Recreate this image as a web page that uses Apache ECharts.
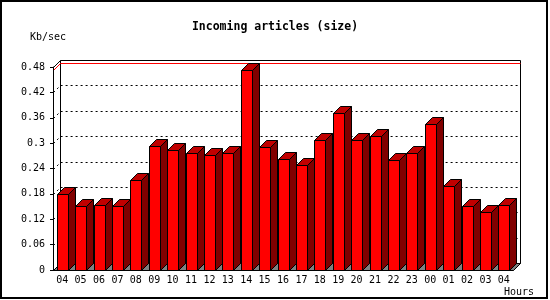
<!DOCTYPE html>
<html>
<head>
<meta charset="utf-8">
<script src="https://cdn.jsdelivr.net/npm/echarts@6/dist/echarts.min.js"></script>
<style>
  html, body { margin: 0; padding: 0; background: #fff; }
  #chart { width: 550px; height: 300px; }
</style>
</head>
<body>
<div id="chart"></div>
<script>
// hours on the x axis (24h window, starts and ends at 04)
const hours = ['04', '05', '06', '07', '08', '09', '10', '11', '12', '13', '14', '15',
  '16', '17', '18', '19', '20', '21', '22', '23', '00', '01', '02', '03', '04'];
// incoming articles, Kb/sec
const kbPerSec = [0.179, 0.151, 0.154, 0.151, 0.212, 0.293, 0.284, 0.276, 0.271, 0.276,
  0.473, 0.290, 0.263, 0.248, 0.307, 0.371, 0.307, 0.316, 0.259, 0.276,
  0.345, 0.198, 0.151, 0.136, 0.153];
// y ticks with a dashed line on the back wall
const gridTicks = [0.06, 0.12, 0.18, 0.24, 0.3, 0.36, 0.42];

const DEPTH = 7;
const MONO = '"DejaVu Sans Mono", "Liberation Mono", monospace';
const px = v => Math.round(v) + 0.5;

const chart = echarts.init(document.getElementById('chart'));

// back wall + floor of the 3d box
function renderBox(params, api) {
  const cs = params.coordSys;
  const x0 = px(cs.x), y0 = px(cs.y), x1 = px(cs.x + cs.width), y1 = px(cs.y + cs.height);
  return {
    type: 'group',
    children: [
      { type: 'rect', shape: { x: x0 + DEPTH, y: y0 - DEPTH, width: x1 - x0, height: y1 - y0 },
        style: { fill: '#fff', stroke: '#000', lineWidth: 1 } },
      { type: 'polygon', shape: { points: [[x0, y1], [x0 + DEPTH, y1 - DEPTH], [x1 + DEPTH, y1 - DEPTH], [x1, y1]] },
        style: { fill: '#808080', stroke: '#000', lineWidth: 1 } },
      // top edge diagonal
      { type: 'polyline', shape: { points: [[x0, y0], [x0 + DEPTH, y0 - DEPTH]] },
        style: { stroke: '#000', lineWidth: 1 } }
    ]
  };
}

// dashed grid lines drawn on the back wall
function renderGrid(params, api) {
  const cs = params.coordSys;
  const y = px(api.coord([0, api.value(0)])[1]);
  const x0 = px(cs.x), x1 = px(cs.x + cs.width);
  return {
    type: 'polyline',
    shape: { points: [[x0, y], [x0 + DEPTH, y - DEPTH], [x1 + DEPTH, y - DEPTH]] },
    style: { stroke: '#000', lineWidth: 1, lineDash: [2, 3], fill: null }
  };
}

// red line for the maximum
function renderMax(params, api) {
  const cs = params.coordSys;
  const y = px(api.coord([0, api.value(0)])[1]);
  const x0 = px(cs.x), x1 = px(cs.x + cs.width);
  return {
    type: 'polyline',
    shape: { points: [[x0, y], [x0 + DEPTH, y - DEPTH], [x1 + DEPTH, y - DEPTH]] },
    style: { stroke: '#ff0000', lineWidth: 1, fill: null }
  };
}

function renderBar(params, api) {
  const base = api.coord([api.value(0), 0]);
  const top = api.coord([api.value(0), api.value(1)]);
  const fw = Math.round(api.size([1, 0])[0] * 0.6);
  const x0 = px(base[0] - fw / 2), x1 = x0 + fw;
  const ty = px(top[1]), by = px(base[1]);
  const d = DEPTH;
  const line = { stroke: '#000', lineWidth: 1 };
  return {
    type: 'group',
    children: [
      { type: 'polygon', shape: { points: [[x1, ty], [x1 + d, ty - d], [x1 + d, by - d], [x1, by]] },
        style: Object.assign({ fill: '#800000' }, line) },
      { type: 'polygon', shape: { points: [[x0, ty], [x0 + d, ty - d], [x1 + d, ty - d], [x1, ty]] },
        style: Object.assign({ fill: '#c00000' }, line) },
      { type: 'rect', shape: { x: x0, y: ty, width: fw, height: by - ty },
        style: Object.assign({ fill: '#ff0000' }, line) }
    ]
  };
}

const option = {
  animation: false,
  backgroundColor: '#fff',
  grid: { left: 53, right: 37, top: 67, bottom: 30 },
  xAxis: {
    type: 'category',
    data: hours,
    z: 10,
    axisLine: { lineStyle: { color: '#000', width: 1 } },
    axisTick: { length: 4, lineStyle: { color: '#000' } },
    axisLabel: { color: '#000', fontFamily: MONO, fontSize: 10, margin: 5, interval: 0 }
  },
  yAxis: {
    type: 'value',
    min: 0,
    max: 0.48,
    interval: 0.06,
    z: 10,
    splitLine: { show: false },
    axisLine: { show: true, lineStyle: { color: '#000', width: 1 } },
    axisTick: { show: true, length: 3, lineStyle: { color: '#000' } },
    axisLabel: { color: '#000', fontFamily: MONO, fontSize: 10, margin: 8 }
  },
  graphic: [
    { type: 'text', left: 'center', top: 21,
      style: { text: 'Incoming articles (size)', font: 'bold 11.5px ' + MONO, fill: '#000' } },
    { type: 'text', x: 30, y: 32,
      style: { text: 'Kb/sec', font: '10px ' + MONO, fill: '#000' } },
    { type: 'text', x: 504, y: 287,
      style: { text: 'Hours', font: '10px ' + MONO, fill: '#000' } },
    { type: 'rect', shape: { x: 1, y: 1, width: 546, height: 297 },
      style: { fill: null, stroke: '#000', lineWidth: 2 }, z: 100 }
  ],
  series: [
    { type: 'custom', z: 1, renderItem: renderBox, data: [[0]], silent: true },
    { type: 'custom', z: 2, renderItem: renderGrid, data: gridTicks.map(v => [v]), silent: true },
    { type: 'custom', z: 2, renderItem: renderMax, data: [[Math.max(...kbPerSec)]], silent: true },
    { type: 'custom', z: 3, renderItem: renderBar, data: kbPerSec.map((v, i) => [i, v]) }
  ]
};

chart.setOption(option);
</script>
</body>
</html>
